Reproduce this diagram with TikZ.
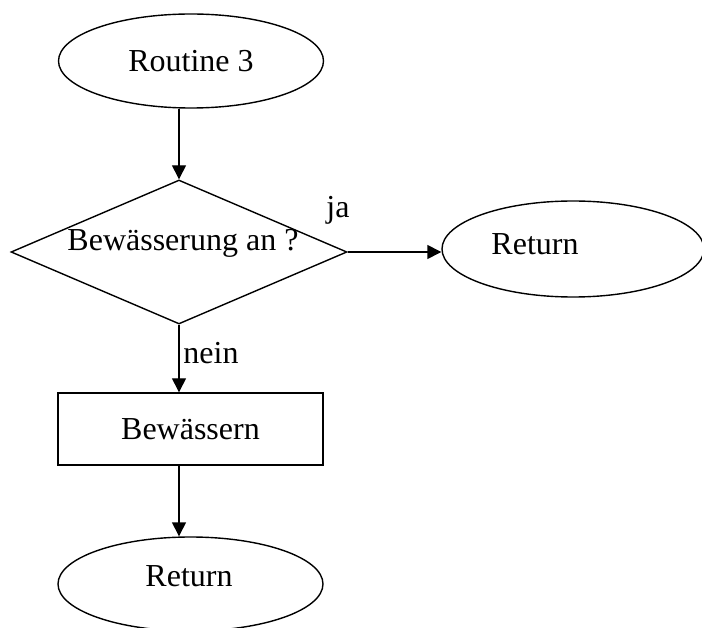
\documentclass[tikz,border=0pt]{standalone}
\usepackage{fontspec}
\setmainfont{Liberation Serif}
\usetikzlibrary{shapes.geometric,arrows.meta}
\begin{document}
\begin{tikzpicture}[x=1pt,y=-1pt,
  every node/.style={font=\fontsize{32}{38}\selectfont},
  shapeline/.style={draw=black,line width=1.4pt,inner sep=0pt},
  oval/.style={shapeline,ellipse,minimum width=265pt,minimum height=94pt},
  decision/.style={shapeline,diamond,minimum width=336pt,minimum height=144pt},
  process/.style={shapeline,rectangle,minimum width=265pt,minimum height=72pt},
  flow/.style={line width=1.4pt,-{Triangle[length=14pt,width=14pt]}},
  tag/.style={inner sep=0pt}]
\useasboundingbox (0,0) rectangle (702,628);
\clip (0,0) rectangle (702,628);

% shapes
\node[oval] (start) at (191,61) {Routine 3};
\node[decision,label={[tag,xshift=4pt,yshift=9pt]center:Bewässerung an ?}] (test) at (179,252) {};
\node[oval,minimum width=262pt,minimum height=96pt,
      label={[tag,xshift=-38pt,yshift=5pt]center:Return}] (done) at (573,249) {};
\node[process] (water) at (190.5,429) {Bewässern};
\node[oval,minimum height=94pt] (finish) at (190.5,584) {};
\node[tag] (finishtext) at (189,576) {Return};

% branch labels
\node[tag] (yes) at (338,210) {ja};
\node[tag] (no) at (211,353) {nein};

% connectors
\draw[flow] (start.south -| test.north) -- (test.north);
\draw[flow] (test.east) -- (test.east -| done.west);
\draw[flow] (test.south) -- (test.south |- water.north);
\draw[flow] (water.south -| test.south) -- (test.south |- finish.north);
\end{tikzpicture}
\end{document}
